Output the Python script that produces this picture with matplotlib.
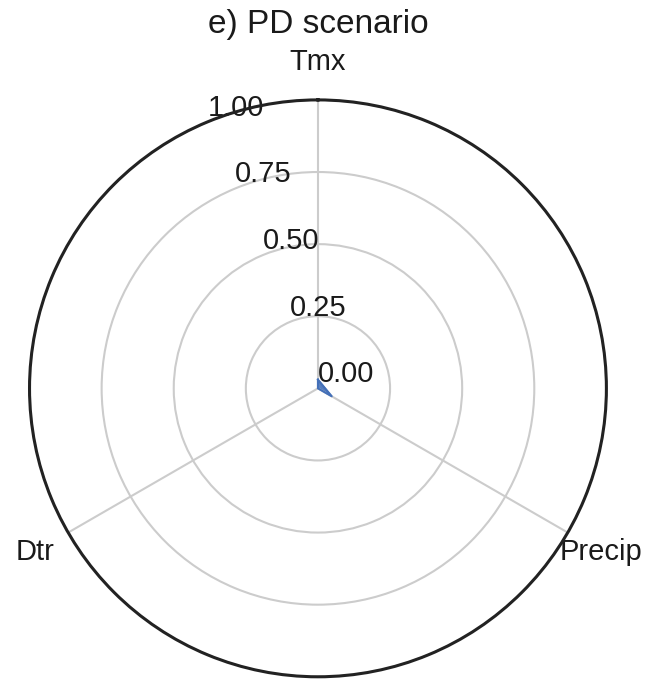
import numpy as np
import matplotlib
matplotlib.use("Agg")
import matplotlib.pyplot as plt

plt.rcParams['font.family'] = ['Liberation Sans', 'DejaVu Sans']

# scenario values per variable (normalised 0-1)
categories = ["Tmx", "Precip", "Dtr"]
values = [0.03, 0.055, 0.0]
r_ticks = [0.0, 0.25, 0.50, 0.75, 1.00]
r_labels = ["0.00", "0.25", "0.50", "0.75", "1.00"]
title = "e) PD scenario"

N = len(categories)
angles = [n / float(N) * 2 * np.pi for n in range(N)]
angles += angles[:1]
vals = values + values[:1]

fig = plt.figure(figsize=(6.46, 6.80), dpi=100)
ax = fig.add_axes([0.0457, 0.0044, 0.893, 0.849], projection='polar')
ax.set_theta_offset(np.pi / 2)
ax.set_theta_direction(-1)

ax.plot(angles, vals, color='#4470b8', linewidth=1.5)
ax.fill(angles, vals, color='#4470b8', alpha=0.9)

ax.set_xticks(angles[:-1])
ax.set_xticklabels(categories, fontsize=21, color='#1a1a1a')
ax.tick_params(axis='x', pad=17)
ax.set_ylim(0, 1)
ax.set_yticks(r_ticks)
ax.set_yticklabels(r_labels, fontsize=21, color='#1a1a1a')
ax.set_rlabel_position(-22.5)

ax.grid(True, color='#cccccc', linewidth=1.5)
ax.spines['polar'].set_color('#222222')
ax.spines['polar'].set_linewidth(2.2)

fig.text(0.492, 0.951, title, fontsize=24, color='#1a1a1a', ha='center', va='baseline')

fig.savefig("out.png", dpi=100)
